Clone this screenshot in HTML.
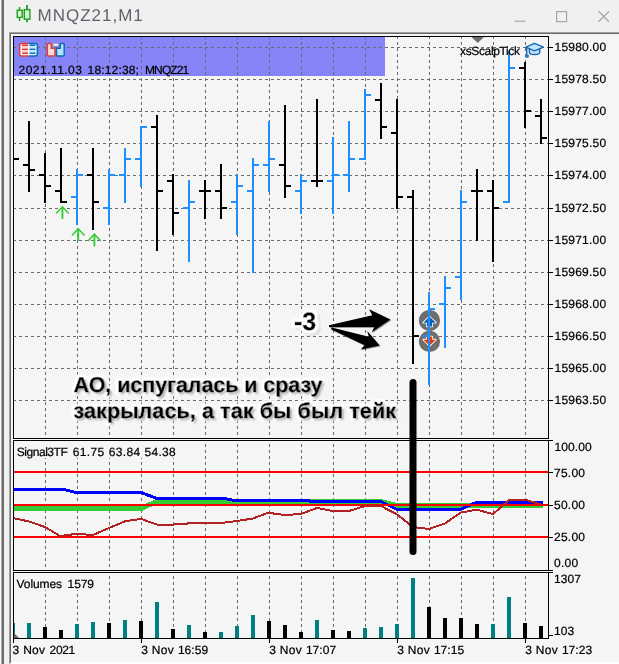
<!DOCTYPE html>
<html><head><meta charset="utf-8"><title>MNQZ21,M1</title>
<style>
html,body{margin:0;padding:0;background:#f0f0f0;}
body{width:619px;height:664px;position:relative;overflow:hidden;font-family:"Liberation Sans",sans-serif;}
.t{position:absolute;white-space:nowrap;color:#000;font-size:12px;line-height:14px;}
</style></head><body>
<svg width="619" height="664" viewBox="0 0 619 664" style="position:absolute;left:0;top:0" shape-rendering="crispEdges">
<defs><filter id="sh" x="-10%" y="-20%" width="120%" height="150%"><feDropShadow dx="0.8" dy="0.8" stdDeviation="0.7" flood-color="#000" flood-opacity="0.45"/></filter><filter id="glow" x="-40%" y="-40%" width="180%" height="180%"><feMorphology in="SourceAlpha" operator="dilate" radius="2" result="d"/><feGaussianBlur in="d" stdDeviation="0.9" result="b"/><feFlood flood-color="#fff"/><feComposite in2="b" operator="in" result="g"/><feGaussianBlur in="d" stdDeviation="1.2" result="sb"/><feOffset in="sb" dx="1.5" dy="1.5" result="so"/><feFlood flood-color="#000" flood-opacity="0.25"/><feComposite in2="so" operator="in" result="s"/><feMerge><feMergeNode in="s"/><feMergeNode in="g"/><feMergeNode in="g"/><feMergeNode in="g"/><feMergeNode in="SourceGraphic"/></feMerge></filter><filter id="tsh" x="-5%" y="-30%" width="110%" height="170%"><feMorphology in="SourceAlpha" operator="dilate" radius="1.6" result="d"/><feGaussianBlur in="d" stdDeviation="0.8" result="b"/><feFlood flood-color="#fff"/><feComposite in2="b" operator="in" result="g"/><feGaussianBlur in="SourceAlpha" stdDeviation="0.9" result="sb"/><feOffset in="sb" dx="1.6" dy="1.6" result="so"/><feFlood flood-color="#000" flood-opacity="0.6"/><feComposite in2="so" operator="in" result="s"/><feMerge><feMergeNode in="g"/><feMergeNode in="g"/><feMergeNode in="s"/><feMergeNode in="SourceGraphic"/></feMerge></filter></defs>
<rect x="0" y="0" width="619" height="664" fill="#f0f0f0"/>
<rect x="0" y="0" width="1" height="664" fill="#fafafa"/>
<rect x="1" y="0" width="1" height="664" fill="#a8a8a8"/>
<rect x="2" y="0" width="2" height="664" fill="#6b6b6b"/>
<rect x="9" y="32" width="610" height="632" fill="#a0a0a0"/>
<rect x="10" y="33" width="609" height="631" fill="#696969"/>
<rect x="11" y="34" width="608" height="630" fill="#f5f5f5"/>
<rect x="9" y="662" width="610" height="2" fill="#ffffff"/>
<rect x="9" y="662" width="1" height="2" fill="#a0a0a0"/>
<rect x="10" y="662" width="1" height="1" fill="#696969"/>
<rect x="14" y="37" width="371" height="39" fill="#8585f7"/>
<path d="M13 47.5H548" stroke="#6a6a6a" stroke-width="1" stroke-dasharray="3 3" fill="none"/>
<path d="M13 79.5H548" stroke="#6a6a6a" stroke-width="1" stroke-dasharray="3 3" fill="none"/>
<path d="M13 111.5H548" stroke="#6a6a6a" stroke-width="1" stroke-dasharray="3 3" fill="none"/>
<path d="M13 143.5H548" stroke="#6a6a6a" stroke-width="1" stroke-dasharray="3 3" fill="none"/>
<path d="M13 175.5H548" stroke="#6a6a6a" stroke-width="1" stroke-dasharray="3 3" fill="none"/>
<path d="M13 208.5H548" stroke="#6a6a6a" stroke-width="1" stroke-dasharray="3 3" fill="none"/>
<path d="M13 240.5H548" stroke="#6a6a6a" stroke-width="1" stroke-dasharray="3 3" fill="none"/>
<path d="M13 272.5H548" stroke="#6a6a6a" stroke-width="1" stroke-dasharray="3 3" fill="none"/>
<path d="M13 304.5H548" stroke="#6a6a6a" stroke-width="1" stroke-dasharray="3 3" fill="none"/>
<path d="M13 336.5H548" stroke="#6a6a6a" stroke-width="1" stroke-dasharray="3 3" fill="none"/>
<path d="M13 368.5H548" stroke="#6a6a6a" stroke-width="1" stroke-dasharray="3 3" fill="none"/>
<path d="M13 400.5H548" stroke="#6a6a6a" stroke-width="1" stroke-dasharray="3 3" fill="none"/>
<path d="M45.5 36V638" stroke="#6a6a6a" stroke-width="1" stroke-dasharray="3 3" fill="none"/>
<path d="M77.5 36V638" stroke="#6a6a6a" stroke-width="1" stroke-dasharray="3 3" fill="none"/>
<path d="M109.5 36V638" stroke="#6a6a6a" stroke-width="1" stroke-dasharray="3 3" fill="none"/>
<path d="M141.5 36V638" stroke="#6a6a6a" stroke-width="1" stroke-dasharray="3 3" fill="none"/>
<path d="M173.5 36V638" stroke="#6a6a6a" stroke-width="1" stroke-dasharray="3 3" fill="none"/>
<path d="M205.5 36V638" stroke="#6a6a6a" stroke-width="1" stroke-dasharray="3 3" fill="none"/>
<path d="M237.5 36V638" stroke="#6a6a6a" stroke-width="1" stroke-dasharray="3 3" fill="none"/>
<path d="M269.5 36V638" stroke="#6a6a6a" stroke-width="1" stroke-dasharray="3 3" fill="none"/>
<path d="M301.5 36V638" stroke="#6a6a6a" stroke-width="1" stroke-dasharray="3 3" fill="none"/>
<path d="M333.5 36V638" stroke="#6a6a6a" stroke-width="1" stroke-dasharray="3 3" fill="none"/>
<path d="M365.5 36V638" stroke="#6a6a6a" stroke-width="1" stroke-dasharray="3 3" fill="none"/>
<path d="M397.5 36V638" stroke="#6a6a6a" stroke-width="1" stroke-dasharray="3 3" fill="none"/>
<path d="M429.5 36V638" stroke="#6a6a6a" stroke-width="1" stroke-dasharray="3 3" fill="none"/>
<path d="M461.5 36V638" stroke="#6a6a6a" stroke-width="1" stroke-dasharray="3 3" fill="none"/>
<path d="M493.5 36V638" stroke="#6a6a6a" stroke-width="1" stroke-dasharray="3 3" fill="none"/>
<path d="M525.5 36V638" stroke="#6a6a6a" stroke-width="1" stroke-dasharray="3 3" fill="none"/>
<path d="M471.5 37H484L477.75 43Z" fill="#6e6e6e" shape-rendering="geometricPrecision"/>
<rect x="14" y="158" width="5" height="2" fill="#000"/>
<rect x="28" y="121" width="2" height="71" fill="#000000"/>
<rect x="23" y="164" width="5" height="2" fill="#000000"/>
<rect x="30" y="169" width="5" height="2" fill="#000000"/>
<rect x="44" y="153" width="2" height="50" fill="#000000"/>
<rect x="39" y="174" width="5" height="2" fill="#000000"/>
<rect x="46" y="185" width="5" height="2" fill="#000000"/>
<rect x="60" y="148" width="2" height="55" fill="#000000"/>
<rect x="55" y="190" width="5" height="2" fill="#000000"/>
<rect x="62" y="201" width="5" height="2" fill="#000000"/>
<rect x="76" y="169" width="2" height="56" fill="#1e90ff"/>
<rect x="71" y="196" width="5" height="2" fill="#1e90ff"/>
<rect x="78" y="174" width="5" height="2" fill="#1e90ff"/>
<rect x="92" y="148" width="2" height="82" fill="#000000"/>
<rect x="87" y="174" width="5" height="2" fill="#000000"/>
<rect x="94" y="201" width="5" height="2" fill="#000000"/>
<rect x="108" y="169" width="2" height="56" fill="#1e90ff"/>
<rect x="103" y="207" width="5" height="2" fill="#1e90ff"/>
<rect x="110" y="174" width="5" height="2" fill="#1e90ff"/>
<rect x="124" y="148" width="2" height="55" fill="#1e90ff"/>
<rect x="119" y="174" width="5" height="2" fill="#1e90ff"/>
<rect x="126" y="158" width="5" height="2" fill="#1e90ff"/>
<rect x="140" y="126" width="2" height="61" fill="#1e90ff"/>
<rect x="135" y="158" width="5" height="2" fill="#1e90ff"/>
<rect x="142" y="126" width="5" height="2" fill="#1e90ff"/>
<rect x="156" y="115" width="2" height="136" fill="#000000"/>
<rect x="151" y="126" width="5" height="2" fill="#000000"/>
<rect x="158" y="190" width="5" height="2" fill="#000000"/>
<rect x="172" y="174" width="2" height="61" fill="#000000"/>
<rect x="167" y="180" width="5" height="2" fill="#000000"/>
<rect x="174" y="212" width="5" height="2" fill="#000000"/>
<rect x="188" y="180" width="2" height="82" fill="#1e90ff"/>
<rect x="183" y="207" width="5" height="2" fill="#1e90ff"/>
<rect x="190" y="201" width="5" height="2" fill="#1e90ff"/>
<rect x="204" y="180" width="2" height="39" fill="#000000"/>
<rect x="199" y="190" width="5" height="2" fill="#000000"/>
<rect x="206" y="190" width="5" height="2" fill="#000000"/>
<rect x="220" y="164" width="2" height="55" fill="#000000"/>
<rect x="215" y="190" width="5" height="2" fill="#000000"/>
<rect x="222" y="207" width="5" height="2" fill="#000000"/>
<rect x="236" y="174" width="2" height="61" fill="#1e90ff"/>
<rect x="231" y="201" width="5" height="2" fill="#1e90ff"/>
<rect x="238" y="185" width="5" height="2" fill="#1e90ff"/>
<rect x="252" y="158" width="2" height="115" fill="#1e90ff"/>
<rect x="247" y="190" width="5" height="2" fill="#1e90ff"/>
<rect x="254" y="164" width="5" height="2" fill="#1e90ff"/>
<rect x="268" y="121" width="2" height="71" fill="#1e90ff"/>
<rect x="263" y="164" width="5" height="2" fill="#1e90ff"/>
<rect x="270" y="158" width="5" height="2" fill="#1e90ff"/>
<rect x="284" y="105" width="2" height="93" fill="#000000"/>
<rect x="279" y="164" width="5" height="2" fill="#000000"/>
<rect x="286" y="185" width="5" height="2" fill="#000000"/>
<rect x="300" y="174" width="2" height="40" fill="#1e90ff"/>
<rect x="295" y="190" width="5" height="2" fill="#1e90ff"/>
<rect x="302" y="180" width="5" height="2" fill="#1e90ff"/>
<rect x="316" y="99" width="2" height="88" fill="#000000"/>
<rect x="311" y="180" width="5" height="2" fill="#000000"/>
<rect x="318" y="180" width="5" height="2" fill="#000000"/>
<rect x="332" y="137" width="2" height="77" fill="#1e90ff"/>
<rect x="327" y="180" width="5" height="2" fill="#1e90ff"/>
<rect x="334" y="174" width="5" height="2" fill="#1e90ff"/>
<rect x="348" y="121" width="2" height="71" fill="#1e90ff"/>
<rect x="343" y="174" width="5" height="2" fill="#1e90ff"/>
<rect x="350" y="158" width="5" height="2" fill="#1e90ff"/>
<rect x="364" y="89" width="2" height="71" fill="#1e90ff"/>
<rect x="359" y="158" width="5" height="2" fill="#1e90ff"/>
<rect x="366" y="94" width="5" height="2" fill="#1e90ff"/>
<rect x="380" y="83" width="2" height="56" fill="#000000"/>
<rect x="375" y="99" width="5" height="2" fill="#000000"/>
<rect x="382" y="126" width="5" height="2" fill="#000000"/>
<rect x="396" y="99" width="2" height="110" fill="#000000"/>
<rect x="391" y="132" width="5" height="2" fill="#000000"/>
<rect x="398" y="196" width="5" height="2" fill="#000000"/>
<rect x="412" y="190" width="2" height="174" fill="#000000"/>
<rect x="407" y="196" width="5" height="2" fill="#000000"/>
<rect x="414" y="335" width="5" height="2" fill="#000000"/>
<rect x="428" y="292" width="2" height="93" fill="#1e90ff"/>
<rect x="423" y="335" width="5" height="2" fill="#1e90ff"/>
<rect x="430" y="308" width="5" height="2" fill="#1e90ff"/>
<rect x="444" y="276" width="2" height="72" fill="#1e90ff"/>
<rect x="439" y="303" width="5" height="2" fill="#1e90ff"/>
<rect x="446" y="287" width="5" height="2" fill="#1e90ff"/>
<rect x="460" y="190" width="2" height="110" fill="#1e90ff"/>
<rect x="455" y="276" width="5" height="2" fill="#1e90ff"/>
<rect x="462" y="201" width="5" height="2" fill="#1e90ff"/>
<rect x="476" y="169" width="2" height="72" fill="#000000"/>
<rect x="471" y="190" width="5" height="2" fill="#000000"/>
<rect x="478" y="190" width="5" height="2" fill="#000000"/>
<rect x="492" y="180" width="2" height="82" fill="#000000"/>
<rect x="487" y="190" width="5" height="2" fill="#000000"/>
<rect x="494" y="207" width="5" height="2" fill="#000000"/>
<rect x="508" y="51" width="2" height="152" fill="#1e90ff"/>
<rect x="503" y="201" width="5" height="2" fill="#1e90ff"/>
<rect x="510" y="67" width="5" height="2" fill="#1e90ff"/>
<rect x="524" y="62" width="2" height="66" fill="#000000"/>
<rect x="519" y="67" width="5" height="2" fill="#000000"/>
<rect x="526" y="110" width="5" height="2" fill="#000000"/>
<rect x="540" y="99" width="2" height="45" fill="#000000"/>
<rect x="535" y="115" width="5" height="2" fill="#000000"/>
<rect x="542" y="137" width="5" height="2" fill="#000000"/>
<g shape-rendering="geometricPrecision" fill="none" stroke="#32cd32" stroke-width="1.5" stroke-linecap="butt" stroke-linejoin="miter"><path d="M62.4 207.10000000000002V218.9" stroke-width="1.9"/><path d="M56.1 213.5L62.4 206.8L68.7 213.5"/></g>
<g shape-rendering="geometricPrecision" fill="none" stroke="#32cd32" stroke-width="1.5" stroke-linecap="butt" stroke-linejoin="miter"><path d="M78.2 229.10000000000002V240.9" stroke-width="1.9"/><path d="M71.9 235.5L78.2 228.8L84.5 235.5"/></g>
<g shape-rendering="geometricPrecision" fill="none" stroke="#32cd32" stroke-width="1.5" stroke-linecap="butt" stroke-linejoin="miter"><path d="M94.4 234.5V246.29999999999998" stroke-width="1.9"/><path d="M88.10000000000001 240.89999999999998L94.4 234.2L100.7 240.89999999999998"/></g>
<g shape-rendering="geometricPrecision">
<circle cx="429.5" cy="320.6" r="10.6" fill="#6e6e6e"/>
<circle cx="429.5" cy="341.4" r="10.6" fill="#6e6e6e"/>
<path d="M429.5 316.6L435.8 322.7H432.2V326.5H426.9V322.7H423.3Z" fill="#0a62b4" stroke="#ffffff" stroke-width="1.7" paint-order="stroke" stroke-linejoin="round"/>
<path d="M429.5 345.8L435.8 339.7H432.2V336.5H426.9V339.7H423.3Z" fill="#e23a12" stroke="#ffffff" stroke-width="1.7" paint-order="stroke" stroke-linejoin="round"/>
</g>
<rect x="428" y="292" width="2" height="93" fill="#1e90ff"/>
<rect x="423" y="335" width="5" height="2" fill="#1e90ff"/>
<rect x="430" y="308" width="5" height="2" fill="#1e90ff"/>
<g shape-rendering="geometricPrecision" filter="url(#sh)">
<path d="M329 325.2L372.3 315.3L369.1 309.3L390.4 319.4L371.7 332.3L374.3 326.9L329 326.9Z" fill="#000"/>
<path d="M331.6 327.6L368.9 336.8L367.2 331L379.7 345.5L360.7 349.4L364.6 345.3L331 329.3Z" fill="#000"/>
</g>
<clipPath id="cpI"><rect x="14" y="441" width="534" height="129"/></clipPath>
<g clip-path="url(#cpI)">
<path d="M13 508.5 L141 508.5 L157 501.5 L381 501.5 L397 505.5 L543 505.5" stroke="#32cd32" stroke-width="5" fill="none" stroke-linejoin="round" shape-rendering="crispEdges"/>
<path d="M13 489.5 L64 489.5 L76 492.5 L141 492.5 L157 498.5 L225 498.5 L234 500.5 L309 500.5 L310 501.5 L381 501.5 L397 509.5 L460 509.5 L476 502.5 L543 502.5" stroke="#0000ff" stroke-width="3" fill="none" stroke-linejoin="round" shape-rendering="crispEdges"/>
</g>
<rect x="14" y="471" width="534" height="2" fill="#ff0000"/>
<rect x="14" y="504" width="534" height="2" fill="#ff0000"/>
<rect x="14" y="536" width="534" height="2" fill="#ff0000"/>
<g clip-path="url(#cpI)">
<path d="M13 518 L29 521.5 L45 527 L60 536 L77 533.8 L93 535 L109 528 L125 521.3 L141 518.9 L157 524.6 L173 524.6 L189 523.4 L205 523.2 L221 523 L237 521 L253 518.5 L268 512.8 L285 515 L301 514 L317 508 L333 511 L349 511 L365 506 L381 506 L397 514.4 L413 527 L429 529 L445 523.4 L461 512.5 L477 509.7 L493 514.1 L509 500 L526 500 L542 504.8" stroke="#b22222" stroke-width="2" fill="none" stroke-linejoin="round" shape-rendering="crispEdges"/>
</g>
<rect x="14" y="623" width="1" height="15" fill="#008080"/>
<rect x="27" y="623" width="4" height="15" fill="#008080"/>
<rect x="43" y="627" width="4" height="11" fill="#000"/>
<rect x="59" y="630" width="4" height="8" fill="#000"/>
<rect x="75" y="624" width="4" height="14" fill="#008080"/>
<rect x="91" y="622" width="4" height="16" fill="#008080"/>
<rect x="107" y="623" width="4" height="15" fill="#000"/>
<rect x="123" y="620" width="4" height="18" fill="#008080"/>
<rect x="139" y="621" width="4" height="17" fill="#000"/>
<rect x="155" y="602" width="4" height="36" fill="#008080"/>
<rect x="171" y="629" width="4" height="9" fill="#000"/>
<rect x="187" y="625" width="4" height="13" fill="#008080"/>
<rect x="203" y="632" width="4" height="6" fill="#000"/>
<rect x="219" y="632" width="4" height="6" fill="#008080"/>
<rect x="235" y="626" width="4" height="12" fill="#008080"/>
<rect x="251" y="615" width="4" height="23" fill="#008080"/>
<rect x="267" y="621" width="4" height="17" fill="#000"/>
<rect x="283" y="625" width="4" height="13" fill="#000"/>
<rect x="299" y="632" width="4" height="6" fill="#000"/>
<rect x="315" y="620" width="4" height="18" fill="#008080"/>
<rect x="331" y="630" width="4" height="8" fill="#000"/>
<rect x="347" y="631" width="4" height="7" fill="#000"/>
<rect x="363" y="628" width="4" height="10" fill="#008080"/>
<rect x="379" y="627" width="4" height="11" fill="#008080"/>
<rect x="395" y="624" width="4" height="14" fill="#008080"/>
<rect x="411" y="578" width="4" height="60" fill="#008080"/>
<rect x="427" y="607" width="4" height="31" fill="#000"/>
<rect x="443" y="618" width="4" height="20" fill="#000"/>
<rect x="459" y="618" width="4" height="20" fill="#000"/>
<rect x="475" y="624" width="4" height="14" fill="#000"/>
<rect x="491" y="624" width="4" height="14" fill="#008080"/>
<rect x="507" y="597" width="4" height="41" fill="#008080"/>
<rect x="523" y="623" width="4" height="15" fill="#000"/>
<rect x="539" y="626" width="4" height="12" fill="#000"/>
<path d="M14 633V638H19Z" fill="#696969" shape-rendering="geometricPrecision"/>
<rect x="13" y="36" width="536" height="1" fill="#000"/>
<rect x="13" y="36" width="1" height="607" fill="#000"/>
<rect x="548" y="36" width="1" height="403" fill="#000"/>
<rect x="13" y="438" width="536" height="1" fill="#000"/>
<rect x="13" y="440" width="540" height="1" fill="#000"/>
<rect x="548" y="440" width="1" height="131" fill="#000"/>
<rect x="13" y="570" width="540" height="1" fill="#000"/>
<rect x="13" y="572" width="540" height="1" fill="#000"/>
<rect x="548" y="572" width="1" height="67" fill="#000"/>
<rect x="13" y="638" width="536" height="1" fill="#000"/>
<rect x="13" y="439" width="536" height="1" fill="#f5f5f5"/>
<rect x="13" y="571" width="536" height="1" fill="#f5f5f5"/>
<rect x="549" y="47" width="4" height="1" fill="#000"/>
<rect x="549" y="79" width="4" height="1" fill="#000"/>
<rect x="549" y="111" width="4" height="1" fill="#000"/>
<rect x="549" y="143" width="4" height="1" fill="#000"/>
<rect x="549" y="175" width="4" height="1" fill="#000"/>
<rect x="549" y="208" width="4" height="1" fill="#000"/>
<rect x="549" y="240" width="4" height="1" fill="#000"/>
<rect x="549" y="272" width="4" height="1" fill="#000"/>
<rect x="549" y="304" width="4" height="1" fill="#000"/>
<rect x="549" y="336" width="4" height="1" fill="#000"/>
<rect x="549" y="368" width="4" height="1" fill="#000"/>
<rect x="549" y="400" width="4" height="1" fill="#000"/>
<rect x="549" y="472" width="4" height="1" fill="#000"/>
<rect x="549" y="505" width="4" height="1" fill="#000"/>
<rect x="549" y="537" width="4" height="1" fill="#000"/>
<rect x="549" y="635" width="4" height="1" fill="#000"/>
<rect x="141" y="638" width="1" height="5" fill="#000"/>
<rect x="269" y="638" width="1" height="5" fill="#000"/>
<rect x="397" y="638" width="1" height="5" fill="#000"/>
<rect x="525" y="638" width="1" height="5" fill="#000"/>
<path d="M413 382.5V551.5" stroke="#000" stroke-width="7" stroke-linecap="round" fill="none" shape-rendering="geometricPrecision"/>
<g font-family="'Liberation Sans',sans-serif" text-rendering="geometricPrecision" stroke="#000" stroke-width="0.22">
<text x="554.5" y="51.4" font-size="12" fill="#000" textLength="51.6" lengthAdjust="spacing">15980.00</text>
<text x="554.5" y="83.4" font-size="12" fill="#000" textLength="51.6" lengthAdjust="spacing">15978.50</text>
<text x="554.5" y="115.4" font-size="12" fill="#000" textLength="51.6" lengthAdjust="spacing">15977.00</text>
<text x="554.5" y="147.4" font-size="12" fill="#000" textLength="51.6" lengthAdjust="spacing">15975.50</text>
<text x="554.5" y="179.4" font-size="12" fill="#000" textLength="51.6" lengthAdjust="spacing">15974.00</text>
<text x="554.5" y="212.4" font-size="12" fill="#000" textLength="51.6" lengthAdjust="spacing">15972.50</text>
<text x="554.5" y="244.4" font-size="12" fill="#000" textLength="51.6" lengthAdjust="spacing">15971.00</text>
<text x="554.5" y="276.4" font-size="12" fill="#000" textLength="51.6" lengthAdjust="spacing">15969.50</text>
<text x="554.5" y="308.4" font-size="12" fill="#000" textLength="51.6" lengthAdjust="spacing">15968.00</text>
<text x="554.5" y="340.4" font-size="12" fill="#000" textLength="51.6" lengthAdjust="spacing">15966.50</text>
<text x="554.5" y="372.4" font-size="12" fill="#000" textLength="51.6" lengthAdjust="spacing">15965.00</text>
<text x="554.5" y="404.4" font-size="12" fill="#000" textLength="51.6" lengthAdjust="spacing">15963.50</text>
<text x="554.5" y="451.4" font-size="12" fill="#000" textLength="37.3" lengthAdjust="spacing">100.00</text>
<text x="554" y="476.5" font-size="12" fill="#000" textLength="31" lengthAdjust="spacing">75.00</text>
<text x="554" y="509.1" font-size="12" fill="#000" textLength="31" lengthAdjust="spacing">50.00</text>
<text x="554" y="541.4" font-size="12" fill="#000" textLength="31" lengthAdjust="spacing">25.00</text>
<text x="554" y="567.2" font-size="12" fill="#000" textLength="24.2" lengthAdjust="spacing">0.00</text>
<text x="554" y="583" font-size="12" fill="#000" textLength="27" lengthAdjust="spacing">1307</text>
<text x="554" y="635" font-size="12" fill="#000" textLength="20.2" lengthAdjust="spacing">103</text>
<text y="74" font-size="12" fill="#000"><tspan x="18.6" textLength="63.3" lengthAdjust="spacing">2021.11.03</tspan> <tspan x="87.6" textLength="51.3" lengthAdjust="spacing">18:12:38;</tspan> <tspan x="145" textLength="44.3" lengthAdjust="spacing">MNQZ21</tspan></text>
<text x="460" y="54.6" font-size="12" fill="#000" textLength="60" lengthAdjust="spacing">xsScalpTick</text>
<rect x="14" y="441" width="166" height="17" fill="#f5f5f5" stroke="none"/>
<text y="456" font-size="12" fill="#000"><tspan x="16.8" textLength="51" lengthAdjust="spacing">Signal3TF</tspan> <tspan x="72.8" textLength="31.3" lengthAdjust="spacing">61.75</tspan> <tspan x="108.8" textLength="31.3" lengthAdjust="spacing">63.84</tspan> <tspan x="144.6" textLength="31" lengthAdjust="spacing">54.38</tspan></text>
<rect x="14" y="573" width="84" height="17" fill="#f5f5f5" stroke="none"/>
<text y="587.6" font-size="12" fill="#000"><tspan x="16.6" textLength="45.4" lengthAdjust="spacing">Volumes</tspan> <tspan x="67.6" textLength="26.4" lengthAdjust="spacing">1579</tspan></text>
<text y="653.7" font-size="12" fill="#000"><tspan x="12.5" textLength="32.6" lengthAdjust="spacing">3 Nov</tspan> <tspan x="49.6" textLength="25.6" lengthAdjust="spacing">2021</tspan></text>
<text y="653.7" font-size="12" fill="#000"><tspan x="141.2" textLength="32.6" lengthAdjust="spacing">3 Nov</tspan> <tspan x="177.9" textLength="30.2" lengthAdjust="spacing">16:59</tspan></text>
<text y="653.7" font-size="12" fill="#000"><tspan x="269.2" textLength="32.6" lengthAdjust="spacing">3 Nov</tspan> <tspan x="305.9" textLength="30.2" lengthAdjust="spacing">17:07</tspan></text>
<text y="653.7" font-size="12" fill="#000"><tspan x="397.2" textLength="32.6" lengthAdjust="spacing">3 Nov</tspan> <tspan x="433.9" textLength="30.2" lengthAdjust="spacing">17:15</tspan></text>
<text y="653.7" font-size="12" fill="#000"><tspan x="525.2" textLength="32.6" lengthAdjust="spacing">3 Nov</tspan> <tspan x="561.9" textLength="30.2" lengthAdjust="spacing">17:23</tspan></text>
<text x="37.6" y="21.2" font-size="17" fill="#5f636b" textLength="105.2" lengthAdjust="spacing" stroke="none">MNQZ21,M1</text>
<text x="294" y="330" font-size="25" font-weight="700" fill="#000" stroke-width="0.5" filter="url(#glow)">-3</text>
<text x="73.5" y="391.5" font-size="21.5" font-weight="700" fill="#000" textLength="249" lengthAdjust="spacing" stroke-width="0.45" filter="url(#tsh)">АО, испугалась и сразу</text>
<text x="73.5" y="418" font-size="21.5" font-weight="700" fill="#000" textLength="322.5" lengthAdjust="spacing" stroke-width="0.45" filter="url(#tsh)">закрылась, а так бы был тейк</text>
</g>
<g shape-rendering="geometricPrecision">
<path d="M19.5 7V21" stroke="#1ea01e" stroke-width="1.4"/><rect x="17.2" y="10.2" width="5" height="7.2" fill="#d6f2d6" stroke="#1ea01e" stroke-width="1.4"/>
<path d="M27 5V22.3" stroke="#1ea01e" stroke-width="1.8"/><rect x="24.3" y="9.6" width="5.6" height="9.6" fill="#d6f2d6" stroke="#1ea01e" stroke-width="1.4"/>
<path d="M514.5 21.2H525.2" stroke="#a6a6a6" stroke-width="1.2"/>
<rect x="556.6" y="11.6" width="10" height="10" fill="none" stroke="#a6a6a6" stroke-width="1.2"/>
<path d="M598.5 11.3L609 21.7M609 11.3L598.5 21.7" stroke="#a6a6a6" stroke-width="1.2"/>
<rect x="19.7" y="43.5" width="17.6" height="12.4" rx="1.8" fill="#ffffff"/>
<rect x="22" y="44.4" width="6" height="1.8" fill="#e03a3a"/><rect x="29.5" y="44.4" width="6" height="1.8" fill="#0a78c8"/>
<rect x="22" y="48.4" width="6" height="1.8" fill="#e03a3a"/><rect x="29.5" y="48.4" width="6" height="1.8" fill="#0a78c8"/>
<rect x="22" y="52.300000000000004" width="6" height="1.8" fill="#e03a3a"/><rect x="29.5" y="52.300000000000004" width="6" height="1.8" fill="#0a78c8"/>
<rect x="22" y="46.4" width="6" height="1.8" fill="#fbd5d0"/><rect x="29.5" y="46.4" width="6" height="1.8" fill="#c4e6fb"/>
<rect x="22" y="50.4" width="6" height="1.8" fill="#fbd5d0"/><rect x="29.5" y="50.4" width="6" height="1.8" fill="#c4e6fb"/>
<path d="M28.5 43.5H21.5Q19.7 43.5 19.7 45.3V54.1Q19.7 55.9 21.5 55.9H28.5" fill="none" stroke="#e03a3a" stroke-width="1.5"/>
<path d="M28.5 43.5H35.5Q37.3 43.5 37.3 45.3V54.1Q37.3 55.9 35.5 55.9H28.5" fill="none" stroke="#0a6ab8" stroke-width="1.5"/>
<path d="M47.3 44.5Q47.3 43.5 48.3 43.5H50.3Q51.3 43.5 51.3 44.5V48.2H54Q55 48.2 55 49.2V54.9Q55 55.9 54 55.9H48.3Q47.3 55.9 47.3 54.9Z" fill="#ffd9d2" stroke="#e03a3a" stroke-width="1.5"/>
<path d="M64.2 44.5Q64.2 43.5 63.2 43.5H61.2Q60.2 43.5 60.2 44.5V48.2H57.5Q56.5 48.2 56.5 49.2V54.9Q56.5 55.9 57.5 55.9H63.2Q64.2 55.9 64.2 54.9Z" fill="#b4e2ff" stroke="#0a6ab8" stroke-width="1.5"/>
<rect x="53" y="43.6" width="5.4" height="2.4" rx="0.6" fill="#ffffff" stroke="#a4a4a4" stroke-width="0.9"/>
<path d="M529.4 49.1V52.2Q529.4 54.5 534.5 54.5Q539.7 54.5 539.7 52.2V49.1" fill="#c4e6ff" stroke="#1868b0" stroke-width="1.45"/>
<path d="M525.8 47.2L534.5 43.3L543.4 47.2L534.5 50.8Z" fill="#c4e6ff" stroke="#1868b0" stroke-width="1.45" stroke-linejoin="round"/>
<path d="M526.7 47.6V54.5" stroke="#1868b0" stroke-width="1.4"/><circle cx="527" cy="55.9" r="2" fill="#2a7cc4"/>
</g>
<!--MORE-->
</svg>
<!--TEXT-->
</body></html>
